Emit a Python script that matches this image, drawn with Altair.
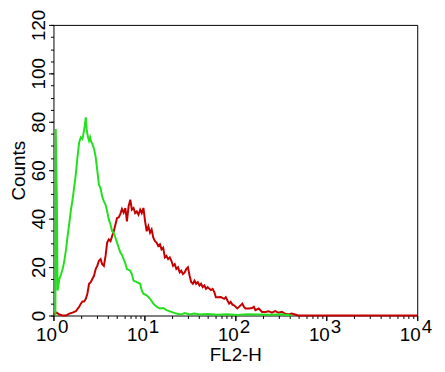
import altair as alt
import pandas as pd

# Green histogram (isotype / control)
green_x = [1.05, 1.06, 1.09, 1.11, 1.162, 1.212, 1.262, 1.317, 1.374, 1.430, 1.493, 1.557,
           1.621, 1.692, 1.765, 1.837, 1.917, 2.001, 2.083, 2.135, 2.211, 2.267, 2.324,
           2.401, 2.462, 2.525, 2.608, 2.674, 2.791, 2.912, 3.031, 3.162, 3.300, 3.435,
           3.584, 3.740, 3.893, 4.062, 4.239, 4.412, 4.603, 4.803, 5.000, 5.216, 5.443,
           5.666, 6.170, 6.422, 6.993, 7.278, 7.594, 8.248, 8.982, 9.348, 9.752, 10.59,
           11.53, 12.53, 13.61, 14.82, 16.09, 17.48, 19.81, 22.44, 25.43, 27.70, 31.39,
           35.56, 40.31, 49.62, 63.73, 81.85, 105.1, 135.0, 182.4, 252.5, 324.3, 416.6]
green_y = [0, 77, 48, 10.3, 15.1, 17.1, 19.2, 22.6, 27.3, 32.8, 38.2, 43.7,
           47.8, 53.2, 58.7, 65.4, 71.6, 73.6, 72.9, 75.0, 78.4, 81.8, 76.3,
           73.6, 72.2, 73.6, 71.6, 70.9, 68.9, 65.4, 60.0, 53.9, 52.5, 49.1,
           47.1, 45.7, 43.0, 39.6, 37.6, 34.8, 34.2, 32.1, 30.1, 28.0, 26.0,
           25.0, 21.5, 19.2, 18.5, 17.1, 14.4, 13.8, 13.1, 10.3, 9.0, 8.3,
           6.9, 4.9, 3.6, 2.9, 3.1, 2.2, 1.5, 0.8, 0.4, 1.0, 0.4,
           0.8, 0.4, 0.6, 0.3, 0.5, 0.2, 0.5, 0.4, 0.3, 0.5, 0]

# Red histogram (stained sample)
red_x = [1.00, 1.086, 1.162, 1.262, 1.374, 1.493, 1.621, 1.765, 1.917, 2.001, 2.083, 2.173,
         2.267, 2.360, 2.462, 2.569, 2.674, 2.791, 2.912, 3.031, 3.162, 3.300, 3.435,
         3.584, 3.740, 3.893, 4.062, 4.239, 4.412, 4.603, 4.803, 5.000, 5.216, 5.443,
         5.666, 5.914, 6.170, 6.422, 6.700, 6.993, 7.278, 7.594, 7.925, 8.248, 8.607,
         8.982, 9.348, 9.752, 10.18, 10.59, 11.05, 11.53, 12.00, 12.53, 13.07, 13.61,
         14.20, 14.82, 15.42, 16.09, 16.79, 17.48, 18.24, 19.02, 19.81, 20.66, 21.56,
         22.44, 23.42, 24.43, 25.43, 26.54, 27.70, 28.84, 30.08, 31.39, 32.68, 34.09,
         35.56, 37.03, 38.64, 40.31, 41.97, 43.78, 45.69, 47.56, 49.62, 51.78, 53.89,
         56.23, 58.68, 61.08, 63.73, 69.21, 75.38, 78.46, 81.85, 85.42, 88.89, 92.77,
         96.81, 105.1, 114.2, 119.2, 124.3, 129.4, 140.9, 153.0, 159.7, 166.2, 181.0,
         196.6, 213.5, 232.4, 252.5, 274.2, 298.5, 324.3, 352.2, 383.4, 416.6, 452.3,
         492.4, 10000]
red_y = [0.5, 1.2, 0.4, 0, 0, 0.8, 1.2, 1.8, 3.6, 4.9, 5.8, 5.8,
         6.9, 9.0, 13.1, 13.8, 15.1, 16.4, 19.2, 20.5, 22.6, 23.3, 21.2,
         20.5, 24.6, 30.1, 31.4, 30.7, 32.8, 34.8, 37.6, 40.3, 40.5, 42.0,
         44.0, 42.5, 44.4, 38.9, 45.0, 47.8, 43.7, 44.4, 42.3, 43.0, 41.6,
         43.7, 42.3, 44.4, 38.9, 34.8, 36.9, 34.2, 35.5, 32.1, 30.7, 30.1,
         28.7, 29.4, 27.3, 28.0, 24.0, 24.6, 23.3, 24.0, 22.6, 20.5, 21.2,
         19.2, 19.9, 17.8, 18.5, 17.1, 17.8, 19.2, 19.9, 16.4, 13.8, 13.1,
         14.4, 13.1, 13.8, 12.4, 13.1, 11.7, 12.4, 11.0, 11.7, 11.0, 10.5,
         11.0, 9.7, 7.5, 7.5, 7.6, 6.9, 7.6, 6.2, 4.9, 5.6, 4.5,
         4.2, 2.9, 4.2, 4.9, 3.6, 2.9, 2.9, 3.1, 3.6, 2.2, 2.9,
         1.5, 1.5, 1.8, 1.2, 1.8, 1.2, 1.5, 0.8, 0.4, 0.8, 0.4,
         0, 0]

major_x = [1, 10, 100, 1000, 10000]
minor_x = [2, 3, 4, 5, 6, 7, 8, 9, 20, 30, 40, 50, 60, 70, 80, 90,
           200, 300, 400, 500, 600, 700, 800, 900, 2000, 3000, 4000, 5000, 6000, 7000, 8000, 9000]
major_y = [0, 20, 40, 60, 80, 100, 120]
minor_y = list(range(0, 121, 5))

RED = "#c40000"
GREEN = "#22e01c"
FONT = "Liberation Sans"

red_df = pd.DataFrame({"x": red_x, "y": red_y})
green_df = pd.DataFrame({"x": green_x, "y": green_y})

xscale = alt.Scale(type="log", domain=[1, 10000], nice=False)
yscale = alt.Scale(domain=[0, 120], nice=False)

# Layer 1: red line with major axes
red = alt.Chart(red_df).mark_line(color=RED, strokeWidth=2).encode(
    x=alt.X("x:Q", scale=xscale, axis=alt.Axis(
        orient="bottom", values=major_x, labelExpr="'10'", labelAlign="right", labelOffset=3,
        labelFontSize=19, labelPadding=5, tickSize=5, grid=False, domain=False,
        title="FL2-H", titleFontSize=19, titleFontWeight="normal", titleX=184, titleY=46,
        titleAlign="center", titleBaseline="alphabetic", labelFlush=False, labelOverlap=False)),
    y=alt.Y("y:Q", scale=yscale, axis=alt.Axis(
        orient="left", values=major_y, labelAngle=270, labelAlign="center",
        labelBaseline="alphabetic", labelFontSize=19, labelPadding=4, tickSize=5,
        grid=False, domain=False, title="Counts", titleFontSize=19,
        titleFontWeight="normal", titleAngle=270, titleX=-29, titleY=147,
        titleAlign="center", titleBaseline="alphabetic", labelFlush=False,
        labelOverlap=False)),
)

# Layer 2: invisible copy carrying exponent labels and minor y ticks
expo = alt.Chart(green_df).mark_line(color=GREEN, strokeOpacity=0).encode(
    x=alt.X("x:Q", scale=xscale, axis=alt.Axis(
        orient="bottom", values=major_x,
        labelExpr="'' + round(log(datum.value) / LN10)", labelAlign="left", labelOffset=4,
        labelFontSize=19, labelPadding=-3, tickSize=5, ticks=True,
        grid=False, domain=False, title=None, labelFlush=False, labelOverlap=False)),
    y=alt.Y("y:Q", scale=yscale, axis=alt.Axis(
        orient="left", values=minor_y, labels=False, tickSize=3, grid=False,
        domain=False, title=None)),
)

# Layer 3: green line carrying minor x ticks
green = alt.Chart(green_df).mark_line(color=GREEN, strokeWidth=2).encode(
    x=alt.X("x:Q", scale=xscale, axis=alt.Axis(
        orient="bottom", values=minor_x, labels=False, tickSize=3, grid=False,
        domain=False, title=None)),
    y=alt.Y("y:Q", scale=yscale, axis=None),
)

chart = alt.layer(red, expo, green).resolve_scale(
    x="shared", y="shared"
).resolve_axis(
    x="independent", y="independent"
).properties(
    width=368, height=294,
    autosize=alt.AutoSizeParams(type="none"),
    padding={"left": 46, "top": 15, "right": 20, "bottom": 52},
    background="white",
).configure_view(
    stroke="black", strokeWidth=1
).configure_axis(
    labelFont=FONT, titleFont=FONT, labelColor="black", titleColor="black",
    tickColor="black", tickWidth=1
)

chart.save("out.html", embed_options={"renderer": "svg", "actions": False})
